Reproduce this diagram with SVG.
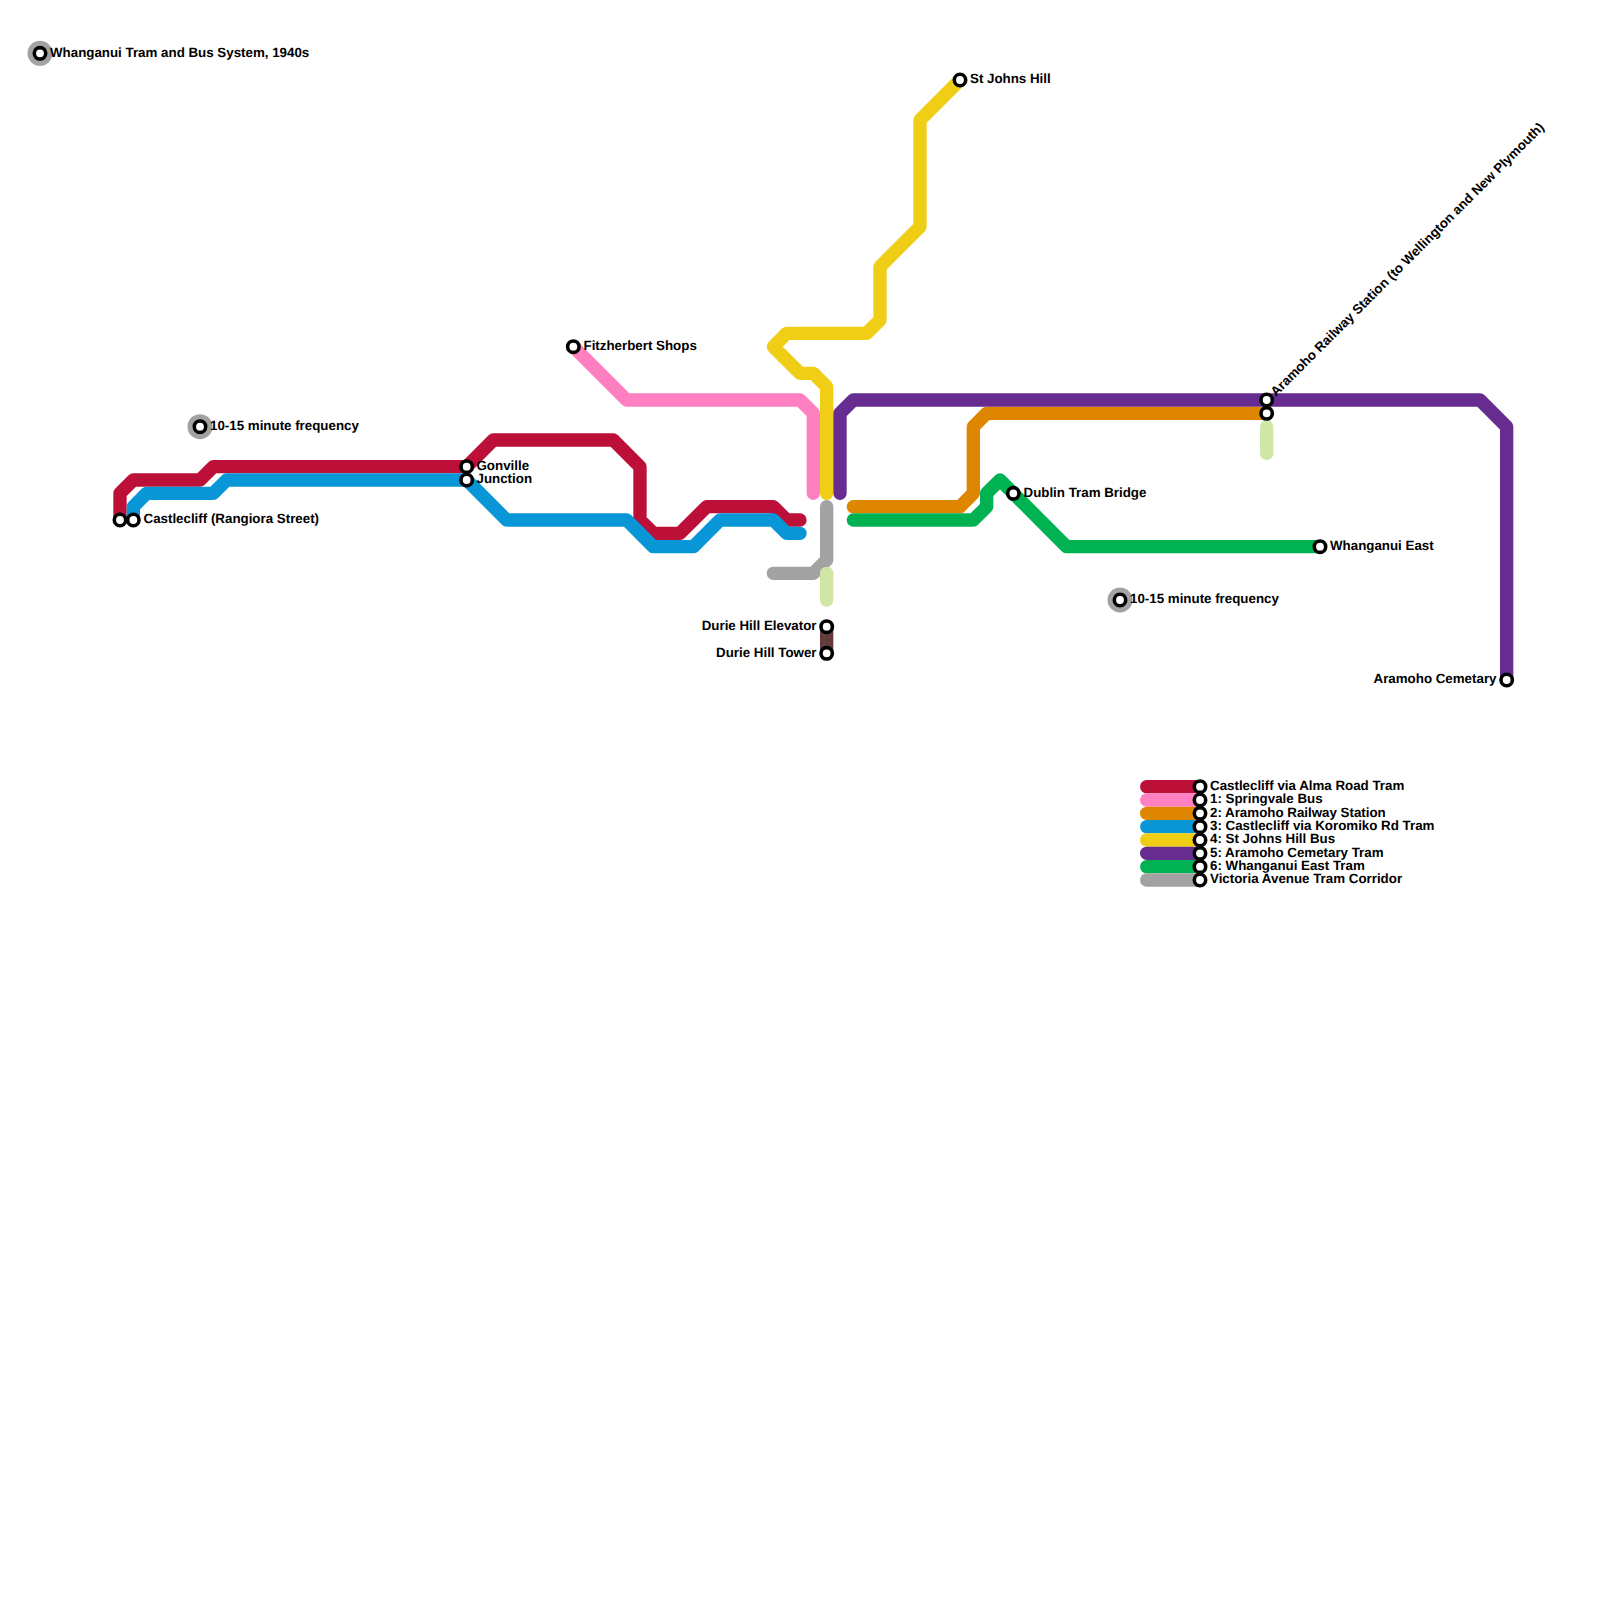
<svg xmlns="http://www.w3.org/2000/svg" width="1600" height="1600" viewBox="0 0 1600 1600">
<style>
.l{fill:none;stroke-width:13.33;stroke-linecap:round;stroke-linejoin:round}
.s{fill:#fff;stroke:#000;stroke-width:3.6}
.h{fill:#a2a2a2}
text{font-family:"Liberation Sans",Arial,sans-serif;font-weight:bold;font-size:13.33px;fill:#000;text-rendering:geometricPrecision}
.e{text-anchor:end}
.red{stroke:#bd1038}.pink{stroke:#ff80c0}.orange{stroke:#df8600}.blue{stroke:#0896d7}.yellow{stroke:#f0ce15}.purple{stroke:#662c90}.green{stroke:#00b251}.gray{stroke:#a2a2a2}.lime{stroke:#d0e6a6}.brown{stroke:#643c3c}
</style>
<rect width="1600" height="1600" fill="#fff"/>
<g id="connectors">
<path class="l red" d="M120 520V493.33L133.33 480H200L213.33 466.67H466.67L493.33 440H613.33L640 466.67V520L653.33 533.33H680L706.67 506.67H773.33L786.67 520H800"/>
<path class="l pink" d="M573.33 346.67L626.67 400H800L813.33 413.33V493.33"/>
<path class="l orange" d="M853.33 506.67H960L973.33 493.33V426.67L986.67 413.33H1266.67"/>
<path class="l blue" d="M133.33 520V506.67L146.67 493.33H213.33L226.67 480H466.67L506.67 520H626.67L653.33 546.67H693.33L720 520H773.33L786.67 533.33H800"/>
<path class="l yellow" d="M960 80L920 120V226.67L880 266.67V320L866.67 333.33H786.67L773.33 346.67L800 373.33H813.33L826.67 386.67V493.33"/>
<path class="l purple" d="M840 493.33V413.33L853.33 400H1480L1506.67 426.67V680"/>
<path class="l green" d="M853.33 520H973.33L986.67 506.67V493.33L1000 480L1066.67 546.67H1320"/>
<path class="l gray" d="M826.67 506.67V560L813.33 573.33H773.33"/>
<path class="l lime" d="M826.67 573.33V600"/>
<path class="l lime" d="M1266.67 426.67V453.33"/>
<path class="l brown" d="M826.67 626.67V653.33"/>
<path class="l red" d="M1146.67 786.67H1200"/>
<path class="l pink" d="M1146.67 800H1200"/>
<path class="l orange" d="M1146.67 813.33H1200"/>
<path class="l blue" d="M1146.67 826.67H1200"/>
<path class="l yellow" d="M1146.67 840H1200"/>
<path class="l purple" d="M1146.67 853.33H1200"/>
<path class="l green" d="M1146.67 866.67H1200"/>
<path class="l gray" d="M1146.67 880H1200"/>
</g>
<g id="title"><circle class="h" cx="40" cy="53.33" r="12.5"/><circle class="s" cx="40" cy="53.33" r="5.7"/><text x="50" y="56.5">Whanganui Tram and Bus System, 1940s</text></g>
<g id="freq-west"><circle class="h" cx="200" cy="426.67" r="12.5"/><circle class="s" cx="200" cy="426.67" r="5.7"/><text x="210" y="430">10-15 minute frequency</text></g>
<g id="freq-east"><circle class="h" cx="1120" cy="600" r="12.5"/><circle class="s" cx="1120" cy="600" r="5.7"/><text x="1130" y="603">10-15 minute frequency</text></g>
<g id="castlecliff-a"><circle class="s" cx="120" cy="520" r="5.7"/></g>
<g id="castlecliff-b"><circle class="s" cx="133.33" cy="520" r="5.7"/><text x="143.5" y="523">Castlecliff (Rangiora Street)</text></g>
<g id="gonville"><circle class="s" cx="466.67" cy="466.67" r="5.7"/><text x="476.5" y="470">Gonville</text></g>
<g id="junction"><circle class="s" cx="466.67" cy="480" r="5.7"/><text x="476.5" y="483">Junction</text></g>
<g id="fitzherbert"><circle class="s" cx="573.33" cy="346.67" r="5.7"/><text x="583.5" y="350">Fitzherbert Shops</text></g>
<g id="st-johns"><circle class="s" cx="960" cy="80" r="5.7"/><text x="970" y="83">St Johns Hill</text></g>
<g id="dublin"><circle class="s" cx="1013.33" cy="493.33" r="5.7"/><text x="1023.5" y="496.5">Dublin Tram Bridge</text></g>
<g id="aramoho-station"><circle class="s" cx="1266.67" cy="400" r="5.7"/><circle class="s" cx="1266.67" cy="413.33" r="5.7"/><text transform="translate(1276 397) rotate(-45)">Aramoho Railway Station (to Wellington and New Plymouth)</text></g>
<g id="whanganui-east"><circle class="s" cx="1320" cy="546.67" r="5.7"/><text x="1330" y="550">Whanganui East</text></g>
<g id="aramoho-cemetary"><circle class="s" cx="1506.67" cy="680" r="5.7"/><text class="e" x="1496.5" y="683">Aramoho Cemetary</text></g>
<g id="durie-elevator"><circle class="s" cx="826.67" cy="626.67" r="5.7"/><text class="e" x="816.5" y="630">Durie Hill Elevator</text></g>
<g id="durie-tower"><circle class="s" cx="826.67" cy="653.33" r="5.7"/><text class="e" x="816.5" y="656.5">Durie Hill Tower</text></g>
<g id="legend">
<circle class="s" cx="1200" cy="786.67" r="5.7"/><text x="1210" y="790">Castlecliff via Alma Road Tram</text>
<circle class="s" cx="1200" cy="800" r="5.7"/><text x="1210" y="803">1: Springvale Bus</text>
<circle class="s" cx="1200" cy="813.33" r="5.7"/><text x="1210" y="816.6">2: Aramoho Railway Station</text>
<circle class="s" cx="1200" cy="826.67" r="5.7"/><text x="1210" y="830">3: Castlecliff via Koromiko Rd Tram</text>
<circle class="s" cx="1200" cy="840" r="5.7"/><text x="1210" y="843.3">4: St Johns Hill Bus</text>
<circle class="s" cx="1200" cy="853.33" r="5.7"/><text x="1210" y="856.6">5: Aramoho Cemetary Tram</text>
<circle class="s" cx="1200" cy="866.67" r="5.7"/><text x="1210" y="870">6: Whanganui East Tram</text>
<circle class="s" cx="1200" cy="880" r="5.7"/><text x="1210" y="883.3">Victoria Avenue Tram Corridor</text>
</g>
</svg>
